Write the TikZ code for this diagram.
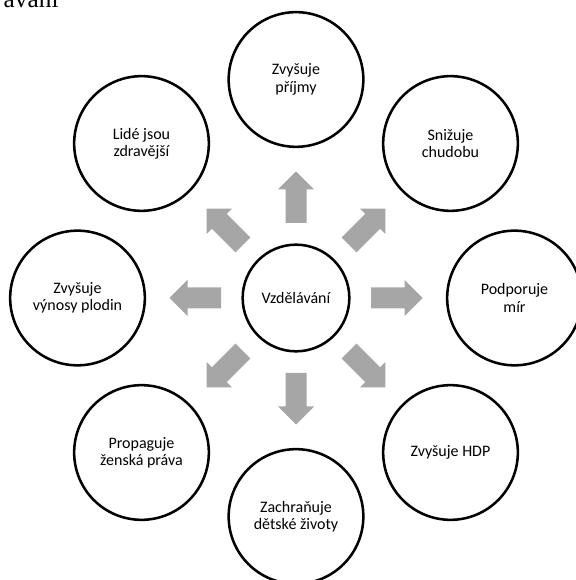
\documentclass[tikz,border=0pt]{standalone}
\usepackage{fontspec}
\setmainfont{Carlito}
\newfontfamily\headfont{Liberation Serif}

\begin{document}
\begin{tikzpicture}[x=0.75pt, y=0.75pt,
  bubble/.style={circle, draw=black, line width=1.9pt, minimum size=101pt, inner sep=0pt, align=center, font=\fontsize{12}{13}\selectfont},
  hub/.style={bubble, minimum size=80pt},
  blockarrow/.style={fill=black!35, draw=none}]
  \useasboundingbox (-296,-282) rectangle (279,298);

  \node[anchor=base west, font=\headfont\fontsize{19}{21}\selectfont] (heading) at (-297,290) {avání};

  \node[hub] (edu) at (0,0) {Vzdělávání};

  % outer circles and the gray block arrows pointing to them
  \foreach \a/\txt [count=\i] in {90/{Zvyšuje\\příjmy}, 45/{Snižuje\\chudobu}, 0/{Podporuje\\mír}, -45/{Zvyšuje HDP}, -90/{Zachraňuje\\dětské životy}, -135/{Propaguje\\ženská práva}, 180/{Zvyšuje\\výnosy plodin}, 135/{Lidé jsou\\zdravější}} {
    \node[bubble] (goal\i) at (\a:218.5) {\txt};
    \fill[blockarrow, shift={(edu.center)}, rotate=\a] (75,-10.5) -- (108.5,-10.5) -- (108.5,-18) -- (126.5,0) -- (108.5,18) -- (108.5,10.5) -- (75,10.5) -- cycle;
  }
\end{tikzpicture}
\end{document}
